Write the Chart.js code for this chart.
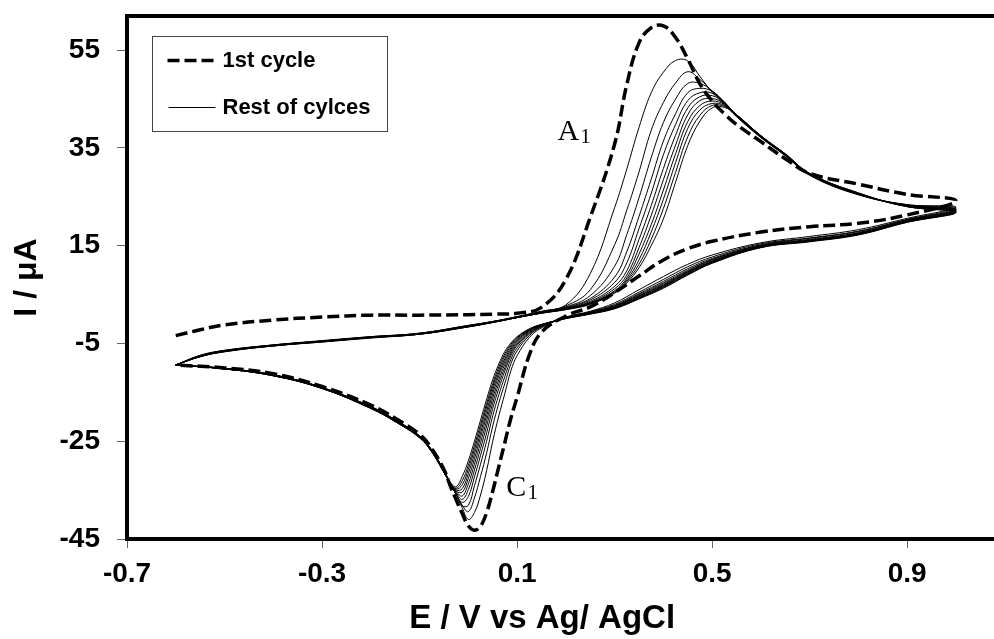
<!DOCTYPE html>
<html>
<head>
<meta charset="utf-8">
<script src="https://cdn.jsdelivr.net/npm/chart.js@4.4.0/dist/chart.umd.min.js"></script>
<style>
  html, body { margin: 0; padding: 0; background: #fff; }
</style>
</head>
<body>
<canvas id="chart" width="994" height="639"></canvas>
<script>
// potential sweep (V vs Ag/AgCl): forward -0.6 -> 1.0, then back to -0.6
const sweepForward = [-0.6, -0.55, -0.5, -0.4, -0.3, -0.2, -0.1, 0, 0.05, 0.1, 0.15, 0.2, 0.25, 0.3, 0.325, 0.35, 0.375, 0.4, 0.425, 0.45, 0.475, 0.5, 0.525, 0.55, 0.6, 0.65, 0.7, 0.8, 0.9, 1.0]
const sweepReverse = [0.9, 0.8, 0.7, 0.6, 0.5, 0.45, 0.4, 0.35, 0.3, 0.25, 0.2, 0.15, 0.125, 0.1, 0.0875, 0.075, 0.0625, 0.05, 0.0375, 0.025, 0.0125, 0, -0.0125, -0.025, -0.0375, -0.05, -0.075, -0.1, -0.15, -0.2, -0.3, -0.4, -0.5, -0.6]

const xTicks = [-0.7, -0.3, 0.1, 0.5, 0.9]
const yTicks = [-45, -25, -5, 15, 35, 55]
const seriesNames = ['1st cycle', 'Rest of cylces']

// current (uA) along the sweep, forward values then reverse values
const cycle1 = [-3.4, -2.2, -1.2, -0.2, 0.4, 0.8, 0.8, 0.9, 1.0, 1.2, 2.4, 8.1, 20.8, 35.8, 48.0, 56.5, 59.6, 60.0, 57.6, 53.2, 48.1, 44.6, 42.0, 39.8, 36.3, 32.8, 29.8, 27.6, 25.5, 24.2,
  21.3, 19.6, 18.9, 17.8, 15.9, 14.4, 12.1, 8.8, 5.4, 2.5, 0.6, -2.7, -7.4, -16.0, -20.2, -25.2, -30.2, -35.2, -39.6, -42.4, -43.2, -42.3, -39.8, -37.0, -34.0, -30.8, -26.5, -23.6, -20.3, -17.6, -13.8, -11.2, -10.0, -9.4]
const cycle2 = [-9.4, -7.4, -6.4, -5.3, -4.4, -3.6, -2.9, -1.3, -0.5, 0.5, 1.6, 2.9, 9.3, 22.8, 30.7, 39.2, 46.3, 50.5, 52.9, 52.8, 49.6, 46.4, 43.9, 41.4, 37.1, 33.4, 29.4, 25.4, 23.4, 22.9,
  20.6, 18.3, 16.9, 15.6, 13.1, 11.2, 8.7, 6.0, 3.3, 1.6, 0.4, -1.8, -3.8, -7.5, -10.5, -15.2, -19.8, -25.0, -31.0, -36.0, -39.6, -41.0, -38.6, -35.8, -33.4, -31.0, -26.8, -23.9, -20.6, -17.9, -14.0, -11.4, -10.1, -9.4]
const cycle3 = [-9.4, -7.5, -6.4, -5.3, -4.5, -3.6, -2.9, -1.3, -0.5, 0.5, 1.5, 2.7, 6.0, 15.2, 22.3, 30.1, 38.6, 44.3, 48.3, 50.6, 49.0, 46.6, 44.1, 41.5, 37.2, 33.5, 29.5, 25.5, 23.4, 22.7,
  20.4, 18.0, 16.6, 15.4, 12.7, 10.7, 8.1, 5.5, 3.0, 1.5, 0.3, -1.6, -3.4, -6.5, -9.1, -13.1, -17.2, -21.9, -27.4, -32.2, -36.6, -39.4, -38.1, -35.8, -33.4, -31.0, -26.8, -23.9, -20.6, -17.9, -14.0, -11.4, -10.1, -9.4]
const cycle4 = [-9.4, -7.5, -6.5, -5.3, -4.5, -3.7, -2.9, -1.4, -0.5, 0.4, 1.5, 2.5, 4.8, 10.8, 17.3, 24.8, 33.0, 40.2, 45.0, 48.2, 48.2, 46.7, 44.3, 41.6, 37.2, 33.5, 29.5, 25.5, 23.3, 22.5,
  20.3, 17.9, 16.5, 15.2, 12.4, 10.3, 7.7, 5.2, 2.8, 1.4, 0.3, -1.5, -3.1, -5.9, -8.2, -11.7, -15.5, -19.8, -25.0, -29.7, -34.1, -38.1, -38.2, -35.9, -33.5, -31.1, -26.9, -24.0, -20.7, -18.0, -14.0, -11.4, -10.1, -9.4]
const cycle5 = [-9.4, -7.5, -6.5, -5.4, -4.5, -3.7, -3.0, -1.4, -0.6, 0.4, 1.4, 2.4, 4.2, 8.6, 13.8, 21.0, 28.6, 36.4, 42.0, 46.3, 47.2, 46.6, 44.4, 41.6, 37.3, 33.6, 29.6, 25.6, 23.3, 22.4,
  20.2, 17.7, 16.3, 15.1, 12.2, 10.0, 7.4, 5.0, 2.7, 1.3, 0.25, -1.4, -2.9, -5.4, -7.5, -10.6, -14.2, -18.3, -23.3, -27.9, -32.3, -36.3, -37.5, -35.9, -33.5, -31.1, -26.9, -24.0, -20.7, -18.0, -14.1, -11.5, -10.1, -9.4]
const cycle6 = [-9.4, -7.6, -6.5, -5.4, -4.5, -3.7, -3.0, -1.4, -0.6, 0.4, 1.4, 2.3, 3.9, 7.5, 11.5, 18.5, 25.7, 33.6, 39.8, 44.7, 46.3, 46.2, 44.4, 41.7, 37.3, 33.6, 29.6, 25.6, 23.2, 22.3,
  20.1, 17.6, 16.2, 15.0, 12.1, 9.8, 7.2, 4.8, 2.6, 1.25, 0.2, -1.4, -2.7, -5.1, -7.0, -9.9, -13.2, -17.2, -21.9, -26.5, -30.9, -34.9, -36.9, -35.5, -33.5, -31.1, -26.9, -24.0, -20.7, -18.0, -14.1, -11.5, -10.1, -9.4]
const cycle7 = [-9.4, -7.6, -6.6, -5.4, -4.6, -3.7, -3.0, -1.5, -0.6, 0.4, 1.3, 2.2, 3.6, 6.7, 9.9, 16.3, 23.2, 30.8, 37.6, 43.2, 45.5, 45.7, 44.3, 41.7, 37.4, 33.6, 29.6, 25.6, 23.2, 22.2,
  20.0, 17.5, 16.1, 14.9, 11.9, 9.65, 7.0, 4.7, 2.5, 1.2, 0.2, -1.3, -2.5, -4.8, -6.6, -9.2, -12.4, -16.2, -20.8, -25.3, -29.7, -33.7, -36.2, -35.3, -33.6, -31.2, -27.0, -24.1, -20.8, -18.1, -14.1, -11.5, -10.2, -9.4]
const cycle8 = [-9.4, -7.6, -6.6, -5.4, -4.6, -3.8, -3.0, -1.5, -0.6, 0.3, 1.3, 2.1, 3.4, 6.2, 9.0, 14.6, 21.2, 28.5, 35.6, 41.8, 44.7, 45.1, 44.1, 41.7, 37.4, 33.7, 29.7, 25.7, 23.1, 22.1,
  20.0, 17.45, 16.05, 14.85, 11.8, 9.5, 6.85, 4.55, 2.4, 1.15, 0.2, -1.3, -2.4, -4.5, -6.2, -8.6, -11.6, -15.3, -19.8, -24.2, -28.6, -32.6, -35.4, -35.2, -33.6, -31.2, -27.0, -24.1, -20.8, -18.1, -14.1, -11.5, -10.2, -9.4]
const cycle9 = [-9.4, -7.7, -6.6, -5.5, -4.6, -3.8, -3.1, -1.5, -0.7, 0.3, 1.3, 2.1, 3.3, 5.8, 8.4, 13.3, 19.3, 26.4, 33.8, 40.4, 43.7, 44.6, 43.9, 41.7, 37.4, 33.7, 29.7, 25.7, 23.1, 22.0,
  19.9, 17.4, 16.0, 14.8, 11.7, 9.4, 6.7, 4.4, 2.3, 1.1, 0.15, -1.2, -2.3, -4.3, -5.85, -8.1, -11.0, -14.5, -18.9, -23.3, -27.6, -31.6, -34.7, -35.0, -33.5, -31.3, -27.1, -24.2, -20.9, -18.2, -14.2, -11.6, -10.2, -9.4]
const cycle10 = [-9.4, -7.7, -6.6, -5.5, -4.6, -3.8, -3.1, -1.6, -0.7, 0.3, 1.2, 2.0, 3.2, 5.6, 8.0, 12.1, 17.8, 24.5, 32.0, 39.0, 42.8, 44.1, 43.7, 41.8, 37.5, 33.7, 29.7, 25.7, 23.0, 21.9,
  19.9, 17.3, 15.9, 14.7, 11.6, 9.25, 6.6, 4.3, 2.2, 1.1, 0.15, -1.2, -2.2, -4.0, -5.5, -7.55, -10.4, -13.8, -18.0, -22.4, -26.7, -30.7, -33.9, -34.8, -33.5, -31.3, -27.1, -24.2, -20.9, -18.2, -14.2, -11.6, -10.2, -9.4]
const cycle11 = [-9.4, -7.7, -6.7, -5.5, -4.7, -3.8, -3.1, -1.6, -0.7, 0.3, 1.2, 2.0, 3.1, 5.4, 7.7, 11.2, 16.3, 22.6, 30.0, 37.3, 41.7, 43.7, 43.5, 41.8, 37.5, 33.8, 29.8, 25.8, 23.0, 21.9,
  19.8, 17.3, 15.9, 14.65, 11.5, 9.1, 6.45, 4.2, 2.2, 1.05, 0.1, -1.1, -2.1, -3.8, -5.2, -7.1, -9.8, -13.2, -17.3, -21.6, -25.9, -29.9, -33.1, -34.6, -33.4, -31.4, -27.2, -24.3, -21.0, -18.3, -14.2, -11.6, -10.2, -9.4]
const cycle12 = [-9.4, -7.7, -6.7, -5.5, -4.7, -3.9, -3.1, -1.6, -0.7, 0.3, 1.2, 1.9, 3.0, 5.3, 7.4, 10.5, 15.0, 20.5, 28.0, 35.5, 40.5, 43.2, 43.3, 41.8, 37.5, 33.8, 29.8, 25.8, 23.0, 21.8,
  19.8, 17.2, 15.8, 14.6, 11.4, 9.0, 6.3, 4.1, 2.1, 1.0, 0.1, -1.1, -2.0, -3.6, -4.9, -6.6, -9.2, -12.4, -16.4, -20.7, -25.0, -29.0, -32.2, -34.3, -33.4, -31.4, -27.2, -24.3, -21.0, -18.3, -14.2, -11.6, -10.2, -9.4]

const restCycles = [cycle2, cycle3, cycle4, cycle5, cycle6, cycle7, cycle8, cycle9, cycle10, cycle11, cycle12]
const potential = sweepForward.concat(sweepReverse)

Chart.defaults.font.family = 'Arial, "Liberation Sans", sans-serif'
Chart.defaults.color = '#000'

function toPoints(currents){
  return potential.map((e, i) => ({ x: e, y: currents[i] }))
}

const datasets = [{
  label: seriesNames[0],
  data: toPoints(cycle1),
  borderColor: '#000',
  borderWidth: 3.5,
  borderDash: [12, 5],
}]

restCycles.forEach((cycle) => {
  datasets.push({
    label: seriesNames[1],
    data: toPoints(cycle),
    borderColor: '#000',
    borderWidth: 1,
  })
})

const serif = '"Times New Roman", "Liberation Serif", serif'

const decorations = {
  id: 'decorations',
  afterDraw(chart) {
    const { ctx, chartArea: { left, top, right }, scales: { x, y } } = chart
    ctx.save()

    // top frame line
    ctx.strokeStyle = '#000'
    ctx.lineWidth = 4
    ctx.beginPath()
    ctx.moveTo(left - 2, top)
    ctx.lineTo(right, top)
    ctx.stroke()

    // legend box
    const bx = left + 25.5
    const by = top + 20.5
    ctx.lineWidth = 1
    ctx.strokeStyle = '#444'
    ctx.strokeRect(bx, by, 235, 95)

    ctx.strokeStyle = '#000'
    ctx.lineWidth = 3.5
    ctx.setLineDash([12, 5])
    ctx.beginPath()
    ctx.moveTo(bx + 15, by + 24)
    ctx.lineTo(bx + 61, by + 24)
    ctx.stroke()

    ctx.setLineDash([])
    ctx.lineWidth = 1
    ctx.beginPath()
    ctx.moveTo(bx + 16, by + 71)
    ctx.lineTo(bx + 63, by + 71)
    ctx.stroke()

    ctx.fillStyle = '#000'
    ctx.font = 'bold 22px ' + Chart.defaults.font.family
    ctx.textBaseline = 'middle'
    ctx.textAlign = 'left'
    ctx.fillText(seriesNames[0], bx + 70, by + 24)
    ctx.fillText(seriesNames[1], bx + 70, by + 71)

    // peak labels A1 and C1
    ctx.textBaseline = 'alphabetic'
    const peaks = [['A', '1', 0.183, 36.6], ['C', '1', 0.078, -36.2]]
    peaks.forEach(([main, sub, e, i]) => {
      const px = x.getPixelForValue(e)
      const py = y.getPixelForValue(i)
      ctx.font = '30px ' + serif
      ctx.fillText(main, px, py)
      const w = ctx.measureText(main).width
      ctx.font = '21px ' + serif
      ctx.fillText(sub, px + w + 1, py + 3)
    })

    ctx.restore()
  }
}

const config = {
  type: 'scatter',
  data: { datasets },
  options: {
    responsive: false,
    animation: false,
    showLine: true,
    elements: {
      point: { radius: 0, hoverRadius: 0 },
      line: { tension: 0.4, fill: false },
    },
    layout: { padding: { top: 16, right: 0, bottom: 0, left: 0 } },
    plugins: {
      legend: { display: false },
      tooltip: { enabled: false },
    },
    scales: {
      x: {
        type: 'linear',
        min: -0.7,
        max: 1.078,
        afterBuildTicks: (axis) => { axis.ticks = xTicks.map(v => ({ value: v })) },
        afterFit: (axis) => { axis.height = 100; axis.paddingLeft = 0; axis.paddingRight = 0 },
        ticks: {
          font: { size: 28, weight: 'bold' },
          color: '#000',
          padding: 9,
          maxRotation: 0,
          callback: (v) => v.toFixed(1),
        },
        grid: { drawOnChartArea: false, drawTicks: true, tickLength: 9, color: '#666', lineWidth: 1 },
        border: { color: '#000', width: 4 },
        title: {
          display: true,
          // trailing spaces pull the centred title a little to the left, as in the original
          text: 'E / V vs Ag/ AgCl\u00a0\u00a0\u00a0\u00a0',
          color: '#000',
          font: { size: 33, weight: 'bold' },
          padding: { top: 0, bottom: 0 },
        },
      },
      y: {
        min: -45,
        max: 62,
        afterBuildTicks: (axis) => { axis.ticks = yTicks.map(v => ({ value: v })) },
        afterFit: (axis) => { axis.width = 127; axis.paddingTop = 0; axis.paddingBottom = 0 },
        ticks: {
          font: { size: 28, weight: 'bold' },
          color: '#000',
          padding: 17,
        },
        grid: { drawOnChartArea: false, drawTicks: true, tickLength: 10, color: '#666', lineWidth: 1 },
        border: { color: '#000', width: 4 },
        title: {
          display: true,
          text: 'I / μA',
          color: '#000',
          font: { size: 32, weight: 'bold' },
          padding: { top: 8, bottom: 0 },
        },
      },
    },
  },
  plugins: [decorations],
}

const cvChart = new Chart(document.getElementById('chart'), config)
</script>
</body>
</html>
